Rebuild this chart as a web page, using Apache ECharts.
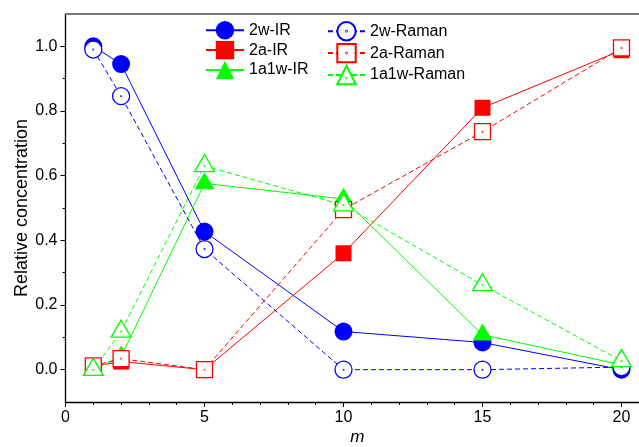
<!DOCTYPE html>
<html><head><meta charset="utf-8">
<script src="https://cdn.jsdelivr.net/npm/echarts@6/dist/echarts.min.js"></script>
<style>html,body{margin:0;padding:0;background:#fff}#c{width:639px;height:447px}</style>
</head><body><div id="c"></div>
<script>
// ---- data ----
const mValues = [1, 2, 5, 10, 15, 20];
const ir2w      = [1.0, 0.945, 0.427, 0.118, 0.084, 0.0];
const raman2w   = [0.99, 0.846, 0.373, 0.0, 0.0, 0.008];
const ir2a      = [0.01, 0.025, 0.0, 0.36, 0.81, 0.988];
const raman2a   = [0.012, 0.034, 0.0, 0.495, 0.736, 0.995];
const ir1a1w    = [0.0, 0.04, 0.576, 0.528, 0.108, 0.015];
const raman1a1w = [0.0, 0.118, 0.63, 0.509, 0.262, 0.027];
const xMajorTicks = [0, 5, 10, 15, 20];
const xMinorTicks = [1, 2, 3, 4, 6, 7, 8, 9, 11, 12, 13, 14, 16, 17, 18, 19];
const yMajorTicks = [0, 0.2, 0.4, 0.6, 0.8, 1.0];
const yMinorTicks = [0.1, 0.3, 0.5, 0.7, 0.9];
const legendCol1 = ['2w-IR', '2a-IR', '1a1w-IR'];
const legendCol2 = ['2w-Raman', '2a-Raman', '1a1w-Raman'];

const BLUE = '#0000FF', RED = '#FF0000', GREEN = '#00FF00';
const FONT = 'Liberation Sans, Arial, sans-serif';
const dot = 'M0.4,0A0.4,0.4,0,1,1,-0.4,0A0.4,0.4,0,1,1,0.4,0Z';
const openCircle = 'path://M10,0A10,10,0,1,1,-10,0A10,10,0,1,1,10,0Z' + dot;
const openSquare = 'path://M-10,-10L10,-10L10,10L-10,10Z' + dot;
const openTriangle = 'path://M0,0L10,17L-10,17Z' + 'M0.4,11.33A0.4,0.4,0,1,1,-0.4,11.33A0.4,0.4,0,1,1,0.4,11.33Z';

function pairs(ys) { return mValues.map((x, i) => [x, ys[i]]); }

function filled(name, ys, color, symbol, size, offset) {
  return {
    name, type: 'line', data: pairs(ys), symbol, symbolSize: size,
    symbolOffset: offset || [0, 0],
    lineStyle: { color, width: 1, type: 'solid' },
    itemStyle: { color, borderWidth: 0 },
    emphasis: { disabled: true }, z: 2
  };
}
function open(name, ys, color, symbol, size, offset) {
  return {
    name, type: 'line', data: pairs(ys), symbol, symbolSize: size,
    symbolOffset: offset || [0, 0],
    lineStyle: { color, width: 1, type: [5, 3] },
    itemStyle: { color: '#ffffff', borderColor: color, borderWidth: 1.3 },
    emphasis: { disabled: true }, z: 3
  };
}

const legendBase = {
  orient: 'vertical', itemHeight: 23, itemGap: 1.5, padding: 0,
  selectedMode: false,
  textStyle: { fontSize: 16, fontFamily: FONT, color: '#000' }
};

const chart = echarts.init(document.getElementById('c'), null, { renderer: 'canvas' });
chart.setOption({
  animation: false,
  backgroundColor: '#ffffff',
  grid: { left: 65.5, right: -10.3, top: 14, bottom: 45, containLabel: false, outerBoundsMode: 'none' },
  legend: [
    Object.assign({}, legendBase, { left: 205, top: 21, itemWidth: 38, data: legendCol1 }),
    Object.assign({}, legendBase, { left: 327, top: 21, itemWidth: 37, data: legendCol2 })
  ],
  xAxis: [
    {
      type: 'value', min: 0, max: 21, position: 'bottom',
      name: 'm', nameLocation: 'middle', nameGap: 27, nameMoveOverlap: false,
      nameTextStyle: { fontSize: 17, fontStyle: 'italic', fontFamily: FONT, color: '#000' },
      axisLine: { show: true, onZero: false, lineStyle: { color: '#000', width: 1.3 } },
      axisTick: { show: true, inside: false, length: 5, customValues: xMajorTicks, lineStyle: { color: '#000', width: 1 } },
      axisLabel: { show: true, customValues: xMajorTicks, margin: 8, fontSize: 16, fontFamily: FONT, color: '#000' },
      splitLine: { show: false }, minorTick: { show: false }
    },
    {
      type: 'value', min: 0, max: 21, position: 'bottom',
      axisLine: { show: false, onZero: false },
      axisTick: { show: true, inside: false, length: 3, customValues: xMinorTicks, lineStyle: { color: '#000', width: 1 } },
      axisLabel: { show: false }, splitLine: { show: false }
    },
    {
      type: 'value', min: 0, max: 21, position: 'top',
      axisLine: { show: true, onZero: false, lineStyle: { color: '#7a7a7a', width: 2 } },
      axisTick: { show: false }, axisLabel: { show: false }, splitLine: { show: false }
    }
  ],
  yAxis: [
    {
      type: 'value', min: -0.1, max: 1.1, position: 'left',
      name: 'Relative concentration', nameLocation: 'middle', nameGap: 34, nameMoveOverlap: false,
      nameTextStyle: { fontSize: 18, fontFamily: FONT, color: '#000' },
      axisLine: { show: true, onZero: false, lineStyle: { color: '#000', width: 1.3 } },
      axisTick: { show: true, inside: false, length: 5, customValues: yMajorTicks, lineStyle: { color: '#000', width: 1 } },
      axisLabel: { show: true, customValues: yMajorTicks, margin: 8, fontSize: 16, fontFamily: FONT, color: '#000',
        formatter: v => Number(v).toFixed(1) },
      splitLine: { show: false }
    },
    {
      type: 'value', min: -0.1, max: 1.1, position: 'left',
      axisLine: { show: false, onZero: false },
      axisTick: { show: true, inside: false, length: 3, customValues: yMinorTicks, lineStyle: { color: '#000', width: 1 } },
      axisLabel: { show: false }, splitLine: { show: false }
    }
  ],
  series: [
    filled('2w-IR', ir2w, BLUE, 'circle', 18),
    filled('2a-IR', ir2a, RED, 'rect', 16),
    filled('1a1w-IR', ir1a1w, GREEN, 'triangle', [20, 17], [0, -2.8]),
    open('2w-Raman', raman2w, BLUE, openCircle, 17),
    open('2a-Raman', raman2a, RED, openSquare, 16),
    open('1a1w-Raman', raman1a1w, GREEN, openTriangle, [20, 17], [0, -2.8])
  ]
});
</script>
</body></html>
